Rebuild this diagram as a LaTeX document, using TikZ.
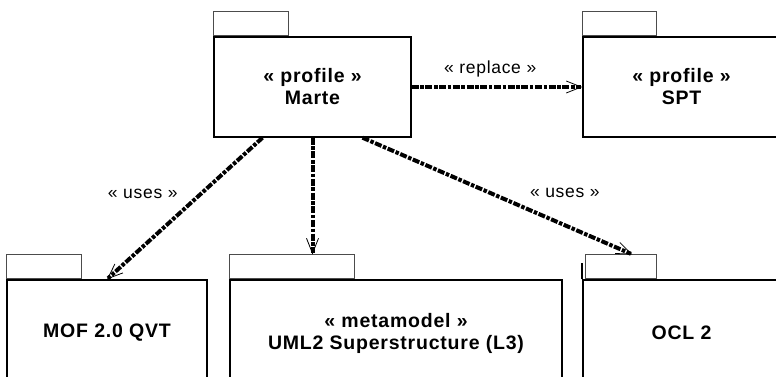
\documentclass[tikz,border=0pt]{standalone}
\usepackage{fontspec}
\setmainfont{Liberation Sans}[LetterSpace=4]
\usetikzlibrary{arrows.meta,calc}
\begin{document}
\begin{tikzpicture}[x=1pt,y=-1pt,
  pkgbody/.style={draw=black,line width=1.4pt,minimum width=#1,inner sep=0pt,align=center,
    font=\fontsize{19.5}{22}\selectfont\bfseries},
  pkgtab/.style={draw=black!70,line width=0.9pt,minimum width=#1,minimum height=24pt,inner sep=0pt},
  dep/.style={line width=4pt,dash pattern=on 7pt off 1.6pt on 3.5pt off 1.6pt,
    -{Straight Barb[length=15pt,width=12pt,line width=0.8pt]}},
  deplabel/.style={font=\fontsize{17.5}{20}\selectfont,inner sep=0pt}
]
\useasboundingbox (0,0) rectangle (776,377);
% top row
\node[pkgbody=197pt,minimum height=100pt] (marte) at (312.5,87) {« profile »\\Marte};
\node[pkgtab=75pt,anchor=south west] (martetab) at (marte.north west) {};
\node[pkgbody=197pt,minimum height=100pt] (spt) at (681.5,87) {« profile »\\SPT};
\node[pkgtab=74pt,anchor=south west] (spttab) at (spt.north west) {};
% bottom row
\node[pkgbody=200pt,minimum height=106pt] (mof) at (107,333) {MOF 2.0 QVT};
\node[pkgtab=75pt,anchor=south west] (moftab) at (mof.north west) {};
\node[pkgbody=332pt,minimum height=106pt] (uml) at (396,333) {« metamodel »\\UML2 Superstructure (L3)};
\node[pkgtab=125pt,anchor=south west] (umltab) at (uml.north west) {};
\node[pkgbody=197pt,minimum height=106pt] (ocl) at (681.5,333) {OCL 2};
\node[pkgtab=71pt,anchor=south west] (ocltab) at ($(ocl.north west)+(3,0)$) {};
\draw[line width=1.8pt] (ocl.north west) -- ++(0,-16);
% connectors
\coordinate (mstartL) at ($(marte.south)+(-50,0)$);
\coordinate (mstartR) at ($(marte.south)+(50,0)$);
\coordinate (oclend) at ($(ocltab.north west)+(47,0)$);
\draw[dep] (marte.east) -- node[deplabel,pos=0.46,yshift=18pt] (lrep) {« replace »} (spt.west);
\draw[dep] (mstartL) -- node[deplabel,pos=0.5,xshift=-42pt,yshift=15pt] (luses1) {« uses »} (mof.north);
\draw[dep] (marte.south) -- (umltab.north -| marte.south);
\draw[dep] (mstartR) -- node[deplabel,pos=0.75,yshift=32pt] (luses2) {« uses »} (oclend);
\end{tikzpicture}
\end{document}
